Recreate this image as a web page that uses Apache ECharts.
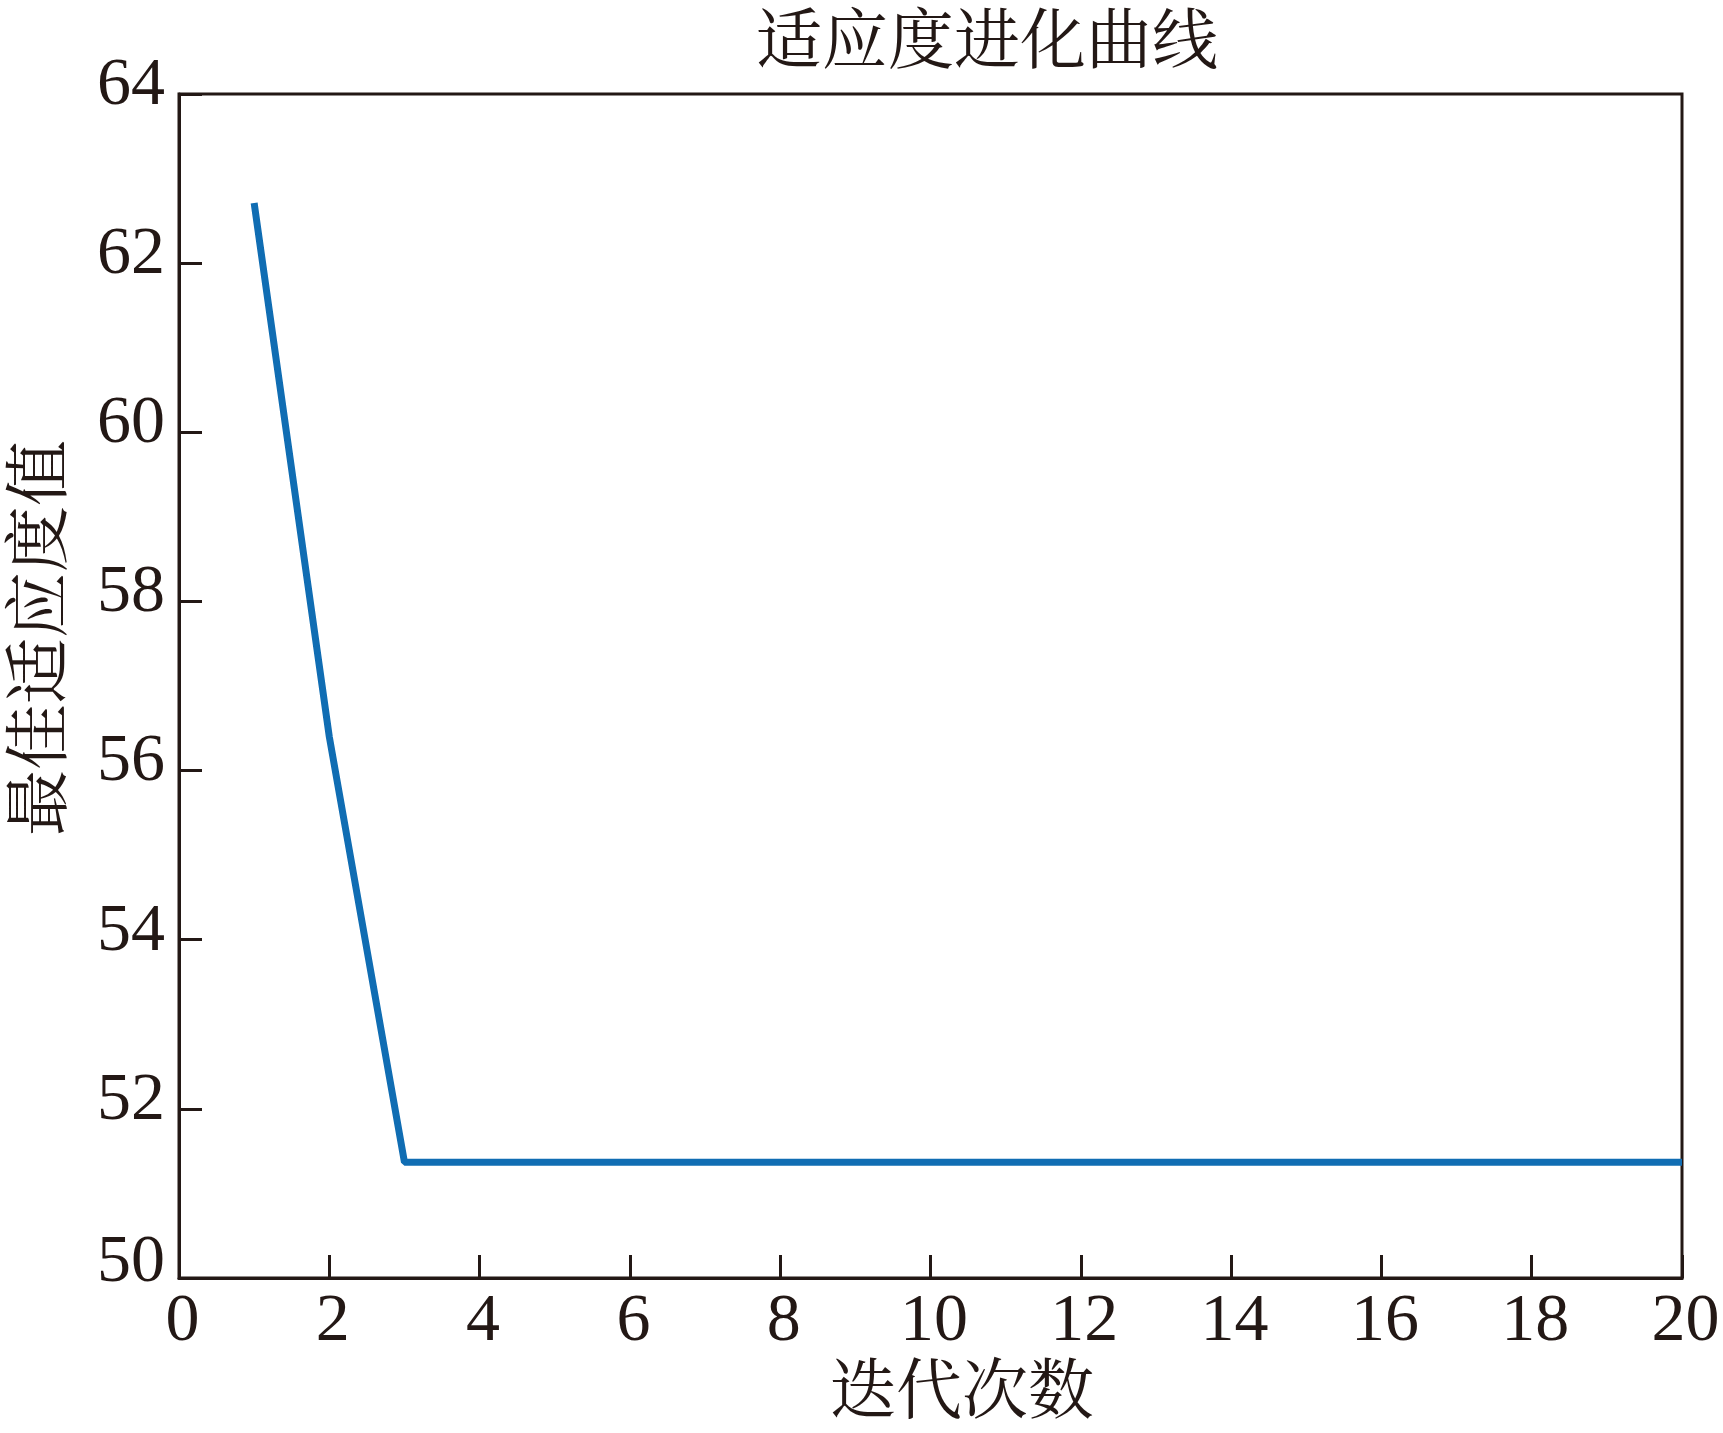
<!DOCTYPE html>
<html>
<head>
<meta charset="utf-8">
<script src="https://cdn.jsdelivr.net/npm/echarts@6/dist/echarts.min.js"></script>
<style>
html,body{margin:0;padding:0;background:#fff;}
#chart{width:1723px;height:1433px;}
</style>
</head>
<body>
<div id="chart"></div>
<script>
const titleText = '适应度进化曲线';
const xName = '迭代次数';
const yName = '最佳适应度值';
const iterations = [1,2,3,4,5,6,7,8,9,10,11,12,13,14,15,16,17,18,19,20];
const bestFitness = [62.71,56.40,51.37,51.37,51.37,51.37,51.37,51.37,51.37,51.37,51.37,51.37,51.37,51.37,51.37,51.37,51.37,51.37,51.37,51.37];
const xTicks = {min:0, max:20, interval:2};
const yTicks = {min:50, max:64, interval:2};

const ink = '#231815';
const serif = '"Liberation Serif","Times New Roman",serif';
const cjk = '"Noto Serif CJK SC","Noto Sans CJK SC",serif';

const chart = echarts.init(document.getElementById('chart'), null, {renderer:'canvas'});
chart.setOption({
  backgroundColor:'#ffffff',
  animation:false,
  title:{
    text:titleText,
    left:982, top:0, textAlign:'center',
    textStyle:{fontFamily:cjk, fontSize:66, fontWeight:'normal', color:ink}
  },
  grid:{left:179, top:94, width:1503, height:1184, show:true, borderColor:ink, borderWidth:3, containLabel:false},
  xAxis:{
    type:'value', min:xTicks.min, max:xTicks.max, interval:xTicks.interval,
    axisLine:{show:true, lineStyle:{color:ink, width:3}},
    axisTick:{show:true, inside:true, length:23, lineStyle:{color:ink, width:3}},
    splitLine:{show:false},
    axisLabel:{margin:10, color:ink, fontFamily:serif, fontSize:68, padding:[0,0,0,7]}
  },
  yAxis:{
    type:'value', min:yTicks.min, max:yTicks.max, interval:yTicks.interval,
    axisLine:{show:true, lineStyle:{color:ink, width:3}},
    axisTick:{show:true, inside:true, length:23, lineStyle:{color:ink, width:3}},
    splitLine:{show:false},
    axisLabel:{margin:14, color:ink, fontFamily:serif, fontSize:68,
      formatter:function(v){ return v===yTicks.min ? '{lo|'+v+'}' : '{n|'+v+'}'; },
      rich:{
        n:{fontFamily:serif, fontSize:68, color:ink, padding:[0,0,16,0]},
        lo:{fontFamily:serif, fontSize:68, color:ink, padding:[0,0,30,0]}
      }
    }
  },
  graphic:[
    {type:'text', x:36, y:638, rotation:Math.PI/2,
      style:{text:yName, font:'normal 66px '+cjk, fill:ink, textAlign:'center', textVerticalAlign:'middle'}},
    {type:'text', x:962, y:1388,
      style:{text:xName, font:'normal 66px '+cjk, fill:ink, textAlign:'center', textVerticalAlign:'middle'}}
  ],
  series:[{
    type:'line',
    data:iterations.map((x,i)=>[x,bestFitness[i]]),
    showSymbol:false,
    lineStyle:{color:'#106db3', width:7},
    itemStyle:{color:'#106db3'}
  }]
});
</script>
</body>
</html>
